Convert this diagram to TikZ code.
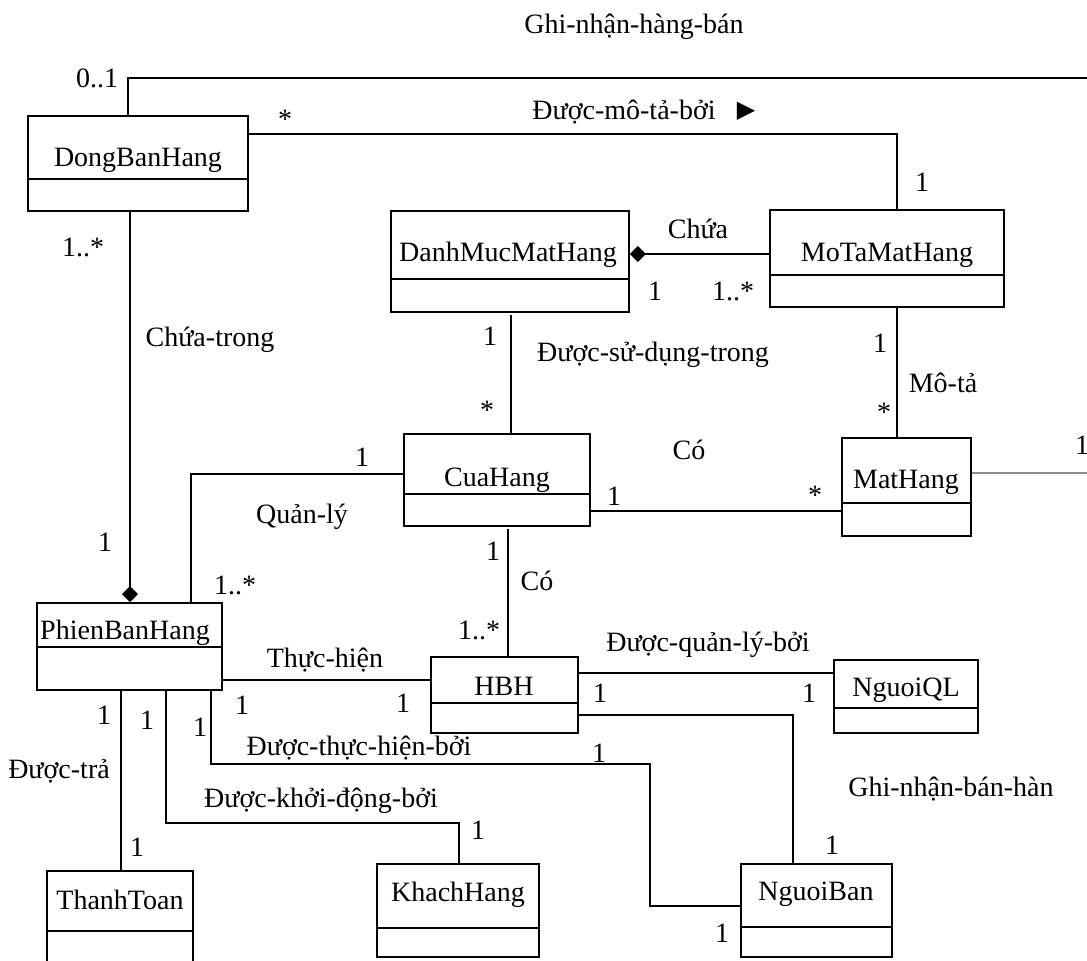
\documentclass[tikz,border=0pt]{standalone}
\usepackage{fontspec}
\setmainfont{Liberation Serif}
\newfontfamily\symfont{DejaVu Sans}
\usetikzlibrary{arrows.meta,fit}
\tikzset{
  conn/.style={draw=black, line width=0.75pt},
  clsbox/.style={draw=black, line width=0.75pt, inner sep=0pt, rectangle},
  clsname/.style={inner sep=0pt, font=\fontsize{14}{16}\selectfont},
  lbl/.style={inner sep=0pt, font=\fontsize{14}{16}\selectfont},
  comp/.style={{Diamond[length=8pt,width=8pt]}-},
  compend/.style={-{Diamond[length=8pt,width=8pt]}},
}
% #1 name, #2 x1, #3 y1, #4 x2, #5 y2, #6 divider y, #7 text x, #8 text y, #9 text
\newcommand\umlclass[9]{%
  \node[clsbox, fit={(#2,#3) (#4,#5)}] (#1) {};
  \draw[conn] (#1.west |- 0,#6) -- (#1.east |- 0,#6);
  \node[clsname] (#1-t) at (#7,#8) {#9};
}
\begin{document}
\begin{tikzpicture}[x=0.5pt,y=-0.5pt]
\useasboundingbox (0,0) rectangle (1087,961);

% classes
\umlclass{dbh}{28}{116}{248}{211}{179}{138}{160}{DongBanHang}
\umlclass{dmmh}{391}{211}{629}{312}{279}{508}{255}{DanhMucMatHang}
\umlclass{mota}{770}{210}{1004}{307}{275}{887}{255}{MoTaMatHang}
\umlclass{cua}{404}{434}{590}{526}{494}{497}{480}{CuaHang}
\umlclass{mat}{842}{438}{971}{536}{503}{906}{482}{MatHang}
\umlclass{pbh}{37}{603}{222}{690}{647}{125}{633}{PhienBanHang}
\umlclass{hbh}{431}{657}{578}{733}{703}{504}{686}{HBH}
\umlclass{nql}{834}{660}{978}{733}{708}{906}{690}{NguoiQL}
\umlclass{tt}{47}{871}{193}{975}{931}{120}{900}{ThanhToan}
\umlclass{kh}{377}{864}{539}{957}{928}{458}{895}{KhachHang}
\umlclass{nb}{741}{864}{892}{957}{927}{816}{894}{NguoiBan}

% free ends at the right border
\coordinate (ghiR) at (1087,78);
\coordinate (matR) at (1087,473);

% connectors
\draw[conn] (128,0 |- dbh.north) |- (ghiR);
\draw[conn] (dbh.east |- 0,134) -| (897,0 |- mota.north);
\draw[conn,comp] (dmmh.east |- 0,254) -- (mota.west |- 0,254);
\draw[conn] (511,315) -- (511,0 |- cua.north);
\draw[conn] (897,0 |- mota.south) -- (897,0 |- mat.north);
\draw[conn] (cua.east |- 0,511) -- (mat.west |- 0,511);
\draw[draw=black!45, line width=1.1pt] (mat.east |- 0,473) -- (matR);
\draw[conn] (191,0 |- pbh.north) |- (cua.west |- 0,474);
\draw[conn,compend] (130,0 |- dbh.south) -- (130,0 |- pbh.north);
\draw[conn] (508,529) -- (508,0 |- hbh.north);
\draw[conn] (pbh.east |- 0,680) -- (hbh.west |- 0,680);
\draw[conn] (hbh.east |- 0,673) -- (nql.west |- 0,673);
\draw[conn] (hbh.east |- 0,715) -| (793,0 |- nb.north);
\draw[conn] (211,0 |- pbh.south) |- (650,764) |- (nb.west |- 0,906);
\draw[conn] (166,0 |- pbh.south) |- (459,823) -- (459,0 |- kh.north);
\draw[conn] (121,0 |- pbh.south) -- (121,0 |- tt.north);

% association names
\node[lbl] (l-ghi1) at (634,27) {Ghi-nhận-hàng-bán};
\node[lbl] (l-mota) at (624,112) {Được-mô-tả-bởi};
\node[lbl] (l-tri) at (746,111) {\symfont\fontsize{12}{14}\selectfont ▶};
\node[lbl] (l-chua) at (698,229) {Chứa};
\node[lbl] (l-sudung) at (653,355) {Được-sử-dụng-trong};
\node[lbl] (l-mota2) at (943,383) {Mô-tả};
\node[lbl] (l-co1) at (689,450) {Có};
\node[lbl] (l-chuatrong) at (210,340) {Chứa-trong};
\node[lbl] (l-quanly) at (302,517) {Quản-lý};
\node[lbl] (l-co2) at (537,581) {Có};
\node[lbl] (l-thuchien) at (325,660) {Thực-hiện};
\node[lbl] (l-qlboi) at (708,645) {Được-quản-lý-bởi};
\node[lbl] (l-ghi2) at (951,789) {Ghi-nhận-bán-hàn};
\node[lbl] (l-tra) at (59,771) {Được-trả};
\node[lbl] (l-khoidong) at (321,801) {Được-khởi-động-bởi};
\node[lbl] (l-thboi) at (359,748) {Được-thực-hiện-bởi};

% multiplicities
\node[lbl] (m1) at (97,78) {0..1};
\node[lbl] (m2) at (285,119) {*};
\node[lbl] (m3) at (922,182) {1};
\node[lbl] (m4) at (655,291) {1};
\node[lbl] (m5) at (733,291) {1..*};
\node[lbl] (m6) at (490,336) {1};
\node[lbl] (m7) at (487,410) {*};
\node[lbl] (m8) at (880,343) {1};
\node[lbl] (m9) at (884,412) {*};
\node[lbl] (m10) at (614,496) {1};
\node[lbl] (m11) at (815,495) {*};
\node[lbl] (m12) at (1082,445) {1};
\node[lbl] (m13) at (83,247) {1..*};
\node[lbl] (m14) at (105,542) {1};
\node[lbl] (m15) at (362,457) {1};
\node[lbl] (m16) at (235,585) {1..*};
\node[lbl] (m17) at (493,551) {1};
\node[lbl] (m18) at (479,630) {1..*};
\node[lbl] (m19) at (242,705) {1};
\node[lbl] (m20) at (403,703) {1};
\node[lbl] (m21) at (600,693) {1};
\node[lbl] (m22) at (809,693) {1};
\node[lbl] (m23) at (599,753) {1};
\node[lbl] (m24) at (832,845) {1};
\node[lbl] (m25) at (722,933) {1};
\node[lbl] (m26) at (104,715) {1};
\node[lbl] (m27) at (137,847) {1};
\node[lbl] (m28) at (147,720) {1};
\node[lbl] (m29) at (478,830) {1};
\node[lbl] (m30) at (200,727) {1};
\end{tikzpicture}
\end{document}
